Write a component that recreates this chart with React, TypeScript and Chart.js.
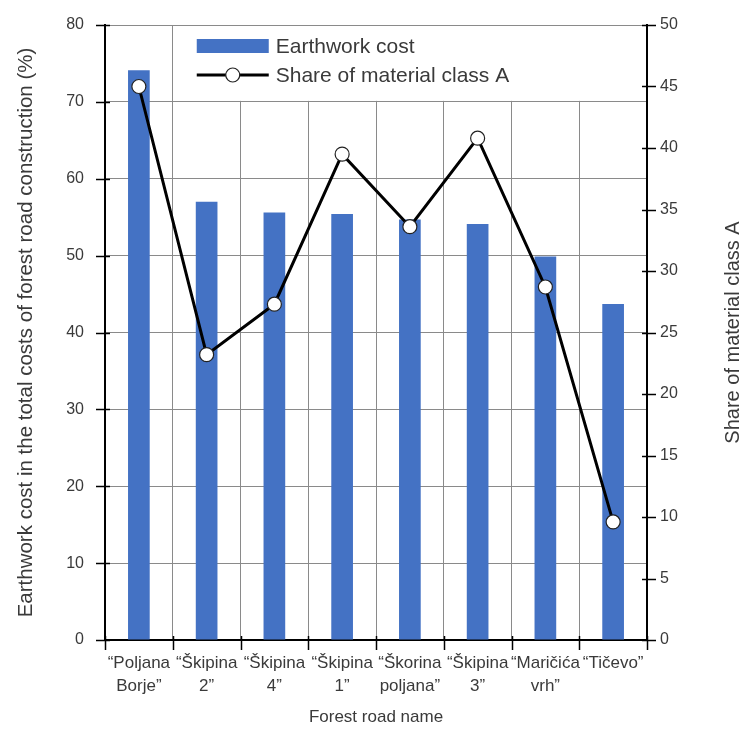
import React, { useEffect, useRef } from "react";
import { Chart, registerables } from "chart.js";

Chart.register(...registerables);

const categories: (string | string[])[] = [
  ["“Poljana", "Borje”"],
  ["“Škipina", "2”"],
  ["“Škipina", "4”"],
  ["“Škipina", "1”"],
  ["“Škorina", "poljana”"],
  ["“Škipina", "3”"],
  ["“Maričića", "vrh”"],
  ["“Tičevo”"],
];
const earthworkCost = [74.1, 57.0, 55.6, 55.4, 54.7, 54.1, 49.9, 43.7];
const shareClassA = [45.0, 23.2, 27.3, 39.5, 33.6, 40.8, 28.7, 9.6];
const leftTicks = { min: 0, max: 80, step: 10 };
const rightTicks = { min: 0, max: 50, step: 5 };
const barLabel = "Earthwork cost";
const lineLabel = "Share of material class A";
const leftTitle = "Earthwork cost in the total costs of forest road construction (%)";
const rightTitle = "Share of material class A";
const xTitle = "Forest road name";

const FONT = "'Liberation Sans', Arial, sans-serif";
const TEXT = "#3a3a3a";
const BLUE = "#4472C4";

export default function App() {
  const ref = useRef<HTMLCanvasElement | null>(null);
  useEffect(() => {
    document.body.style.margin = "0";
    const canvas = ref.current!;
    const overlay = {
      id: "overlay",
      beforeDatasetsDraw(chart: any) {
        const { ctx, chartArea } = chart;
        const x = chart.scales.x;
        const y = chart.scales.y;
        const left = x.getPixelForTick(0) + (x.getPixelForTick(1) - x.getPixelForTick(0)) / 2 + 1;
        const top = chartArea.top + 1;
        const bottom = y.getPixelForValue(70) - 1;
        ctx.save();
        ctx.fillStyle = "#ffffff";
        ctx.fillRect(left, top, chartArea.right - 1 - left, bottom - top);
        ctx.restore();
      },
      afterDatasetsDraw(chart: any) {
        const { ctx, chartArea } = chart;
        const x = chart.scales.x;
        const half = (x.getPixelForTick(1) - x.getPixelForTick(0)) / 2;
        const lx = x.getPixelForTick(0) + half + 24;
        const y1 = chartArea.top + 21;
        const y2 = chartArea.top + 50;
        ctx.save();
        ctx.fillStyle = BLUE;
        ctx.fillRect(lx, y1 - 7, 72, 14);
        ctx.strokeStyle = "#000";
        ctx.lineWidth = 3;
        ctx.beginPath();
        ctx.moveTo(lx, y2);
        ctx.lineTo(lx + 72, y2);
        ctx.stroke();
        ctx.beginPath();
        ctx.arc(lx + 36, y2, 7, 0, Math.PI * 2);
        ctx.fillStyle = "#fff";
        ctx.fill();
        ctx.lineWidth = 1.2;
        ctx.strokeStyle = "#222";
        ctx.stroke();
        ctx.fillStyle = TEXT;
        ctx.font = `21px ${FONT}`;
        ctx.textBaseline = "middle";
        ctx.textAlign = "left";
        ctx.fillText(barLabel, lx + 79, y1 + 1);
        ctx.fillText(lineLabel, lx + 79, y2 + 1);
        ctx.restore();
      },
      afterDraw(chart: any) {
        const { ctx, chartArea } = chart;
        ctx.save();
        ctx.translate(733, (chartArea.top + chartArea.bottom) / 2);
        ctx.rotate(-Math.PI / 2);
        ctx.fillStyle = TEXT;
        ctx.font = `20px ${FONT}`;
        ctx.textAlign = "center";
        ctx.textBaseline = "middle";
        ctx.fillText(rightTitle, 0, 0);
        ctx.restore();
        // crossing tick marks
        ctx.save();
        ctx.strokeStyle = "#000";
        ctx.lineWidth = 1.5;
        const y = chart.scales.y;
        const yr = chart.scales.y1;
        for (let v = leftTicks.min; v <= leftTicks.max; v += leftTicks.step) {
          const p = Math.round(y.getPixelForValue(v)) + 0.5;
          ctx.beginPath();
          ctx.moveTo(chartArea.left - 9, p);
          ctx.lineTo(chartArea.left + 5, p);
          ctx.stroke();
        }
        for (let v = rightTicks.min; v <= rightTicks.max; v += rightTicks.step) {
          const p = Math.round(yr.getPixelForValue(v)) + 0.5;
          ctx.beginPath();
          ctx.moveTo(chartArea.right - 5, p);
          ctx.lineTo(chartArea.right + 9, p);
          ctx.stroke();
        }
        const x = chart.scales.x;
        const w = x.getPixelForTick(1) - x.getPixelForTick(0);
        for (let i = 0; i <= categories.length; i++) {
          const p = Math.round(x.getPixelForTick(0) - w / 2 + i * w) + 0.5;
          ctx.beginPath();
          ctx.moveTo(p, chartArea.bottom - 4);
          ctx.lineTo(p, chartArea.bottom + 10);
          ctx.stroke();
        }
        ctx.restore();
      },
    };

    const chart = new Chart(canvas, {
      type: "bar",
      data: {
        labels: categories as any,
        datasets: [
          {
            type: "line",
            label: lineLabel,
            data: shareClassA,
            yAxisID: "y1",
            borderColor: "#000",
            borderWidth: 3,
            pointRadius: 7,
            pointBackgroundColor: "#fff",
            pointBorderColor: "#222",
            pointBorderWidth: 1.2,
            tension: 0,
            order: 0,
          } as any,
          {
            type: "bar",
            label: barLabel,
            data: earthworkCost,
            yAxisID: "y",
            backgroundColor: BLUE,
            borderWidth: 0,
            categoryPercentage: 1,
            barPercentage: 0.32,
            order: 1,
          },
        ],
      },
      options: {
        animation: false,
        responsive: true,
        maintainAspectRatio: false,
        layout: { padding: { top: 25, left: 0, right: 0, bottom: 0 } },
        plugins: { legend: { display: false }, tooltip: { enabled: false } },
        scales: {
          x: {
            offset: true,
            grid: { offset: true, color: "#8a8a8a", lineWidth: 1, drawTicks: false },
            border: { color: "#000", width: 2 },
            ticks: {
              color: TEXT,
              font: { family: FONT, size: 17, lineHeight: "23px" as any },
              padding: 12,
              maxRotation: 0,
              minRotation: 0,
              autoSkip: false,
            },
            title: {
              display: true,
              text: xTitle,
              color: TEXT,
              font: { family: FONT, size: 17 },
              padding: { top: 4, bottom: 9 },
            },
            afterFit(scale: any) {
              scale.height = 97;
            },
          },
          y: {
            position: "left",
            min: leftTicks.min,
            max: leftTicks.max,
            ticks: {
              stepSize: leftTicks.step,
              color: TEXT,
              font: { family: FONT, size: 16 },
              padding: 12,
            },
            grid: { color: "#8a8a8a", lineWidth: 1, drawTicks: true, tickLength: 9, tickColor: "transparent" },
            border: { color: "#000", width: 2 },
            title: {
              display: true,
              text: leftTitle,
              color: TEXT,
              font: { family: FONT, size: 20.5 },
              padding: { top: 14, bottom: 0 },
            },
            afterFit(scale: any) {
              scale.width = 105;
            },
          },
          y1: {
            position: "right",
            min: rightTicks.min,
            max: rightTicks.max,
            ticks: {
              stepSize: rightTicks.step,
              color: TEXT,
              font: { family: FONT, size: 16 },
              padding: 4,
            },
            grid: { drawOnChartArea: false, drawTicks: true, tickLength: 9, tickColor: "transparent" },
            border: { color: "#000", width: 2 },
            afterFit(scale: any) {
              scale.width = 96;
            },
          },
        },
      },
      plugins: [overlay],
    });
    return () => chart.destroy();
  }, []);

  return (
    <div style={{ position: "absolute", left: 0, top: 0, width: 743, height: 737, background: "#fff" }}>
      <canvas ref={ref} />
    </div>
  );
}
